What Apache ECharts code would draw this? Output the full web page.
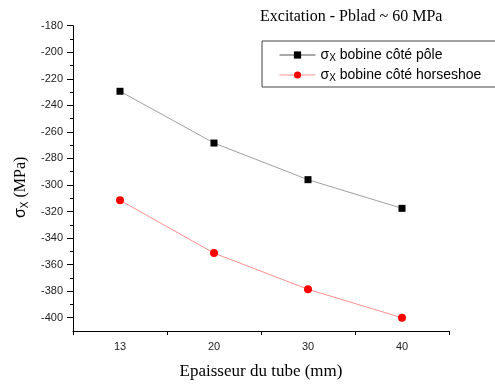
<!DOCTYPE html>
<html>
<head>
<meta charset="utf-8">
<script src="https://cdn.jsdelivr.net/npm/echarts@6/dist/echarts.min.js"></script>
<style>html,body{margin:0;padding:0;background:#fff}#c{width:495px;height:385px}</style>
</head>
<body>
<div id="c"></div>
<script>
const categories = ['13', '20', '30', '40'];
const sigmaPole = [-229.4, -268.4, -296, -317.6];
const sigmaHorseshoe = [-311.5, -351.3, -378.6, -400];
const yMajorTicks = [-400, -380, -360, -340, -320, -300, -280, -260, -240, -220, -200, -180];
const yMinorTicks = [-390, -370, -350, -330, -310, -290, -270, -250, -230, -210, -190];
const titleText = 'Excitation - Pblad ~ 60 MPa';
const xName = 'Epaisseur du tube (mm)';
const seriesNames = ['bobine côté pôle', 'bobine côté horseshoe'];

const chart = echarts.init(document.getElementById('c'), null, {renderer: 'canvas'});
const serif = 'Liberation Serif';
const sans = 'Liberation Sans';
chart.setOption({
  animation: false,
  backgroundColor: '#fff',
  title: {
    text: titleText,
    left: 255, top: 4,
    textStyle: {fontFamily: serif, fontSize: 16, fontWeight: 'normal', color: '#000'}
  },
  grid: {left: 73, right: 46, top: 25.7, bottom: 54, containLabel: false},
  legend: {
    orient: 'vertical',
    left: 262, top: 41,
    padding: [6, 60, 4, 17],
    borderColor: '#444', borderWidth: 1,
    itemWidth: 36, itemHeight: 9, itemGap: 4,
    data: [
      {name: seriesNames[0], lineStyle: {color: '#555', width: 1}},
      {name: seriesNames[1], lineStyle: {color: '#ff9090', width: 1}}
    ],
    formatter: function (n) { return '{s|σ}{b|X} {t|' + n + '}'; },
    textStyle: {
      fontFamily: sans, color: '#000', fontSize: 14,
      rich: {
        s: {fontFamily: sans, fontSize: 14, lineHeight: 16},
        b: {fontFamily: sans, fontSize: 10, verticalAlign: 'bottom', padding: [6, 0, 0, 0], lineHeight: 16},
        t: {fontFamily: sans, fontSize: 14, lineHeight: 16}
      }
    }
  },
  xAxis: {
    type: 'category',
    data: categories,
    boundaryGap: true,
    name: xName,
    nameLocation: 'middle',
    nameGap: 32,
    nameTextStyle: {fontFamily: serif, fontSize: 17, color: '#000'},
    axisLine: {show: true, lineStyle: {color: '#000', width: 1}},
    axisTick: {show: true, inside: false, length: 4, lineStyle: {color: '#000'}},
    axisLabel: {fontFamily: sans, fontSize: 11, color: '#222', margin: 10},
    splitLine: {show: false}
  },
  yAxis: [{
    type: 'value',
    min: -410, max: -180,
    name: '{s|σ}{b|X} (MPa)',
    nameLocation: 'middle',
    nameRotate: 90,
    nameGap: 40,
    nameTextStyle: {
      fontFamily: serif, fontSize: 16, color: '#000', padding: [0, 18, 0, 0],
      rich: {
        s: {fontFamily: sans, fontSize: 16},
        b: {fontFamily: sans, fontSize: 10, verticalAlign: 'bottom', padding: [8, 0, 0, 0]}
      }
    },
    axisLine: {show: true, lineStyle: {color: '#000', width: 1}},
    axisTick: {show: true, inside: false, length: 6, customValues: yMajorTicks, lineStyle: {color: '#000'}},
    axisLabel: {fontFamily: sans, fontSize: 11, color: '#222', margin: 10, customValues: yMajorTicks},
    splitLine: {show: false}
  }, {
    type: 'value',
    min: -410, max: -180,
    position: 'left',
    axisLine: {show: false},
    axisTick: {show: true, inside: false, length: 3, customValues: yMinorTicks, lineStyle: {color: '#000'}},
    axisLabel: {show: false},
    splitLine: {show: false}
  }],
  series: [{
    name: seriesNames[0],
    type: 'line',
    data: sigmaPole,
    symbol: 'rect',
    symbolSize: 7,
    itemStyle: {color: '#000'},
    lineStyle: {color: '#a0a0a0', width: 1}
  }, {
    name: seriesNames[1],
    type: 'line',
    data: sigmaHorseshoe,
    symbol: 'circle',
    symbolSize: 8,
    itemStyle: {color: '#ff0000'},
    lineStyle: {color: '#ff9090', width: 1}
  }]
});
</script>
</body>
</html>
